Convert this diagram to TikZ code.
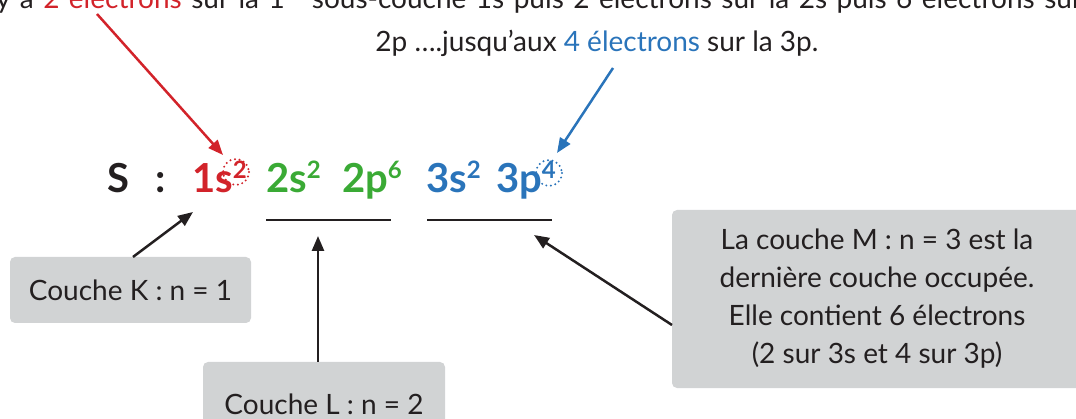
\documentclass[tikz,border=0pt]{standalone}
\usepackage{fontspec}
\setmainfont{Lato}
\usetikzlibrary{arrows.meta}
\definecolor{cred}{HTML}{D2232A}
\definecolor{cgreen}{HTML}{3AAA35}
\definecolor{cblue}{HTML}{2A74BA}
\definecolor{cgrey}{HTML}{D1D3D4}
\definecolor{ctext}{HTML}{231F20}
\newcommand\expo[1]{\raisebox{14pt}{\fontsize{24}{24}\selectfont #1}}
\begin{document}
\begin{tikzpicture}[x=1pt,y=-1pt,
  every node/.style={inner sep=0pt, outer sep=0pt},
  toptext/.style={font=\fontsize{28}{32}\selectfont, text=ctext, anchor=base west},
  formula/.style={font=\fontsize{40}{42}\selectfont\bfseries, anchor=base west},
  infobox/.style={fill=cgrey, rounded corners=5pt, font=\fontsize{28}{38}\selectfont, text=ctext, align=center},
  arr/.style={line width=2.5pt, -{Triangle[length=15pt,width=12pt]}},
  uline/.style={line width=2.5pt, draw=ctext},
  dotcirc/.style={dash pattern=on 0pt off 4.6pt, line cap=round, line width=2.2pt}
]
\clip (0,0) rectangle (1076,419);
\useasboundingbox (0,0) rectangle (1076,419);

\node[toptext] (line1) at (-4,9) {\makebox[1086pt][s]{y a \textcolor{cred}{2 électrons} sur la 1\textsuperscript{re} sous-couche 1s puis 2 électrons sur la 2s puis 6 électrons sur}};
\node[toptext, anchor=base] (line2) at (597,52) {2p ….jusqu’aux \textcolor{cblue}{4 électrons} sur la 3p.};

\node[formula, text=ctext] (S) at (107,193) {S};
\node[formula, text=ctext] (colon) at (155,193) {:};
\node[formula, text=cred] (k1s) at (192,193) {1s\expo{2}};
\node[formula, text=cgreen] (l2s) at (266,193) {2s\expo{2}};
\node[formula, text=cgreen] (l2p) at (342,193) {2p\expo{6}};
\node[formula, text=cblue] (m3s) at (426,193) {3s\expo{2}};
\node[formula, text=cblue] (m3p) at (496,193) {3p\expo{4}};

\draw[dotcirc, cred] (236,172) circle[radius=13];
\draw[dotcirc, cblue] (549,173) circle[radius=13];

\draw[uline] (266,220) -- (391,220);
\draw[uline] (427,220) -- (552,220);

\node[infobox, minimum width=241pt, minimum height=66pt] (kbox) at (130.5,290) {Couche K : n = 1};
\node[infobox, minimum width=242pt, minimum height=84pt] (lbox) at (324,404) {Couche L : n = 2};
\node[infobox, minimum width=410pt, minimum height=178pt] (mbox) at (877,299) {La couche M : n = 3 est la\\dernière couche occupée.\\Elle contient 6 électrons\\(2 sur 3s et 4 sur 3p)};

\coordinate (redstart) at (97,14);
\coordinate (redtip) at (223,155);
\coordinate (bluestart) at (613,68);
\coordinate (bluetip) at (557,153);
\coordinate (kstart) at (133,257);
\coordinate (ktip) at (193,212);
\coordinate (lstart) at (318,362);
\coordinate (ltip) at (318,236);
\coordinate (mstart) at (672,325);
\coordinate (mtip) at (534,235);

\draw[arr, cred] (redstart) -- (redtip);
\draw[arr, cblue] (bluestart) -- (bluetip);
\draw[arr, ctext] (kstart) -- (ktip);
\draw[arr, ctext] (lstart) -- (ltip);
\draw[arr, ctext] (mstart) -- (mtip);
\end{tikzpicture}
\end{document}
